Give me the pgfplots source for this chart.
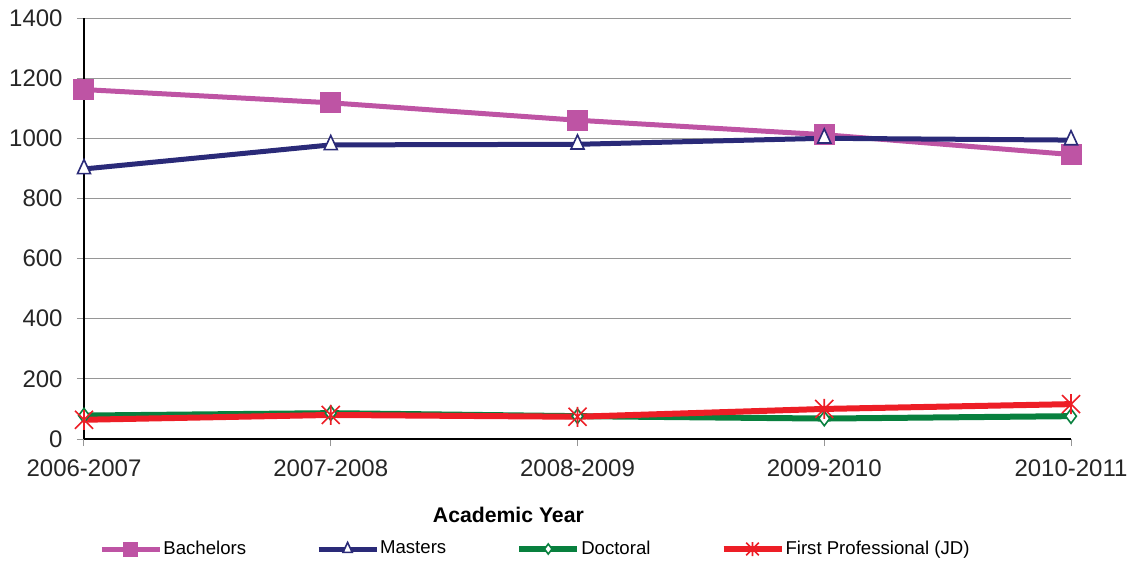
\documentclass[border=0pt]{standalone}
\usepackage{pgfplots}
\pgfplotsset{compat=1.18}
\usepackage{fontspec}
\setmainfont{Liberation Sans}

\definecolor{bachcol}{RGB}{190,84,164}
\definecolor{mastcol}{RGB}{42,42,120}
\definecolor{doccol}{RGB}{8,128,62}
\definecolor{fpcol}{RGB}{237,30,38}
\definecolor{gridcol}{RGB}{150,150,150}

% Excel-like star: an X with a vertical bar through it
\pgfdeclareplotmark{xstar}{%
  \pgfpathmoveto{\pgfqpoint{0pt}{-\pgfplotmarksize}}%
  \pgfpathlineto{\pgfqpoint{0pt}{\pgfplotmarksize}}%
  \pgfpathmoveto{\pgfqpoint{-.9\pgfplotmarksize}{-.9\pgfplotmarksize}}%
  \pgfpathlineto{\pgfqpoint{.9\pgfplotmarksize}{.9\pgfplotmarksize}}%
  \pgfpathmoveto{\pgfqpoint{-.9\pgfplotmarksize}{.9\pgfplotmarksize}}%
  \pgfpathlineto{\pgfqpoint{.9\pgfplotmarksize}{-.9\pgfplotmarksize}}%
  \pgfusepathqstroke
}

\begin{document}
\begin{tikzpicture}
  % fixed page box: 1133 x 564 px at 0.5pt per px, axis corner at (84,439)
  \useasboundingbox (-42pt,-62.5pt) rectangle (524.5pt,219.5pt);
  \begin{axis}[
      scale only axis,
      width=493.5pt,
      height=210.5pt,
      at={(0,0)}, anchor=south west,
      xmin=0, xmax=4,
      ymin=0, ymax=1400,
      xtick={0,1,2,3,4},
      xticklabels={2006-2007,2007-2008,2008-2009,2009-2010,2010-2011},
      ytick={0,200,...,1400},
      axis lines*=left,
      axis line style={black, line width=0.6pt},
      ymajorgrids=true,
      grid style={gridcol, line width=0.5pt},
      tick align=outside,
      major tick length=3.5pt,
      tick style={gridcol, line width=0.5pt},
      /pgf/number format/assume math mode=true,
      /pgf/number format/1000 sep={},
      ticklabel style={font=\fontsize{12}{14}\selectfont, text=black!85},
      yticklabel style={inner sep=0pt, xshift=-7pt},
      xticklabel style={inner sep=0pt, yshift=-6.5pt},
      xlabel={Academic Year},
      every axis x label/.style={at={(rel axis cs:0.43,0)}, yshift=-38pt,
        anchor=center, font=\fontsize{10.6}{12}\selectfont\bfseries},
      clip=false,
      legend columns=4,
      legend style={draw=none, at={(rel axis cs:0,0)}, anchor=west,
        xshift=7.5pt, yshift=-55pt, inner sep=0pt,
        font=\fontsize{9.3}{11}\selectfont,
        nodes={inner sep=0.5pt},
        /tikz/every even column/.append style={column sep=34.5pt}},
      legend image code/.code={
        \draw[mark repeat=2, mark phase=2, #1, /tikz/every mark/.append style={scale=0.7}]
          plot coordinates {(0pt,0pt) (14.5pt,0pt) (29pt,0pt)};
      },
    ]
    \addplot[bachcol, line width=2.5pt, mark=square*,
      mark options={mark size=5pt, fill=bachcol, line width=0.5pt}]
      coordinates {(0,1162) (1,1118) (2,1060) (3,1012) (4,946)};
    \addlegendentry{Bachelors}

    \addplot[mastcol, line width=2.5pt, mark=triangle*,
      mark options={mark size=4.7pt, xscale=0.8, fill=white, line width=0.8pt}]
      coordinates {(0,898) (1,978) (2,980) (3,1000) (4,994)};
    \addlegendentry{Masters}

    \addplot[doccol, line width=3pt, mark=diamond*,
      mark options={mark size=3.6pt, fill=white, line width=0.8pt}]
      coordinates {(0,78) (1,86) (2,76) (3,68) (4,76)};
    \addlegendentry{Doctoral}

    \addplot[fpcol, line width=3pt, mark=xstar,
      mark options={mark size=5pt, line width=0.8pt}]
      coordinates {(0,64) (1,80) (2,74) (3,100) (4,116)};
    \addlegendentry{First Professional (JD)}
  \end{axis}
\end{tikzpicture}
\end{document}
